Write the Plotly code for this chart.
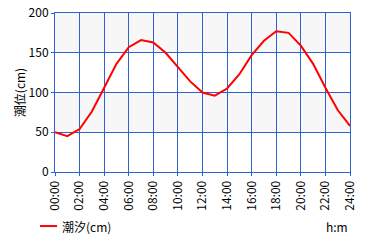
import plotly.graph_objects as go

hours = list(range(25))
tide_cm = [50, 45, 54, 76, 106, 136, 157, 166, 163, 150, 132, 114, 100, 96, 105, 123,
           147, 165, 177, 175, 159, 136, 106, 78, 58]
x_tickvals = list(range(0, 25, 2))
x_ticktext = ["%02d:00" % h for h in x_tickvals]
y_tickvals = [0, 50, 100, 150, 200]
bands = [(50, 100), (150, 200)]
series_name = "潮汐(cm)"

grid = "#2f62d0"
red = "#ff0000"
font = "Noto Sans CJK JP"

fig = go.Figure()
fig.add_trace(go.Scatter(x=hours, y=tide_cm, mode="lines", name=series_name,
                         line=dict(color=red, width=2), showlegend=False))
for y0, y1 in bands:
    fig.add_shape(type="rect", xref="x", yref="y", x0=0, x1=24, y0=y0, y1=y1,
                  fillcolor="#f7f7f7", line_width=0, layer="below")

# legend sample (drawn manually below the plot)
fig.add_shape(type="line", xref="paper", yref="paper", x0=-0.051, x1=0.007,
              y0=-0.34, y1=-0.34, line=dict(color=red, width=2))

fig.update_layout(
    width=380, height=240,
    margin=dict(l=55, r=30, t=13, b=68, autoexpand=False),
    paper_bgcolor="white", plot_bgcolor="white",
    font=dict(family=font, size=11, color="#000000"),
    showlegend=False,
    xaxis=dict(range=[0, 24], tickvals=x_tickvals, ticktext=x_ticktext, tickangle=-90,
               showgrid=True, gridcolor=grid, gridwidth=1, zeroline=False,
               showline=True, linecolor=grid, mirror=True, ticks="outside",
               ticklen=3, tickcolor=grid, tickfont=dict(size=12), automargin=False),
    yaxis=dict(range=[0, 200], tickvals=y_tickvals, showgrid=True, gridcolor=grid,
               gridwidth=1, zeroline=False, showline=True, linecolor=grid, mirror=True,
               ticks="outside", ticklen=3, tickcolor=grid, tickfont=dict(size=12),
               automargin=False,
               title=dict(text="潮位(cm)", font=dict(size=12), standoff=0)),
    annotations=[
        dict(text=series_name, xref="paper", yref="paper", x=0.017, y=-0.34,
             xanchor="left", yanchor="middle", showarrow=False, font=dict(size=12)),
        dict(text="h:m", xref="paper", yref="paper", x=1.0, y=-0.34,
             xanchor="right", yanchor="middle", showarrow=False, font=dict(size=12)),
    ],
)
fig.write_html("out.html")
